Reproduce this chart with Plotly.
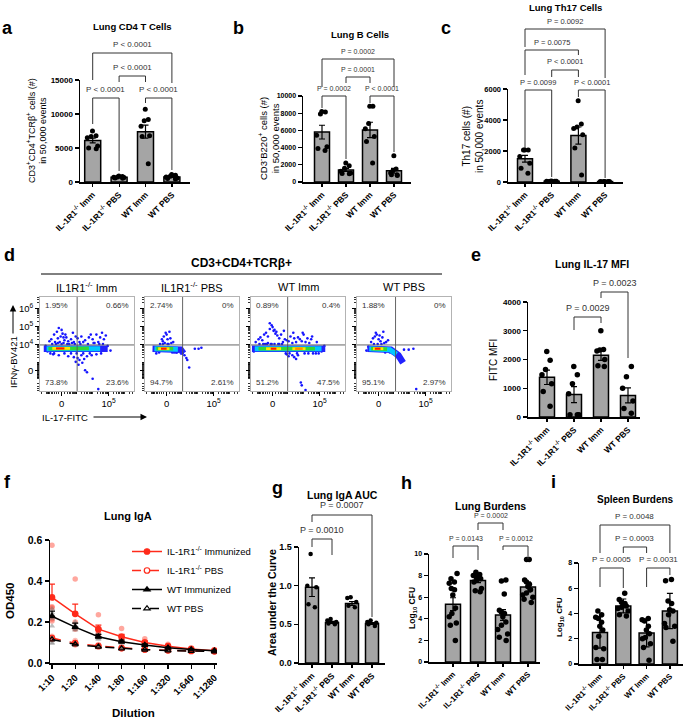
import numpy as np
import plotly.graph_objects as go

W, H = 685, 726
FONT = "Liberation Sans, Arial, sans-serif"

# ---------------- data ----------------
CATS = ["IL-1R1<sup>-/-</sup> Imm", "IL-1R1<sup>-/-</sup> PBS", "WT Imm", "WT PBS"]

a_mean = [6100, 700, 7400, 750]
a_err = [350, 50, 950, 90]
a_pts = [[7500, 6800, 6700, 6500, 5300, 4900, 5000],
         [900, 800, 750, 700, 650, 600, 550],
         [10700, 9200, 9000, 8200, 6800, 6700, 2700],
         [1100, 1000, 850, 750, 600, 500, 450]]

b_mean = [5800, 1400, 6050, 1300]
b_err = [800, 180, 900, 280]
b_pts = [[8200, 7900, 8150, 5450, 4100, 3650, 3900],
         [2200, 1900, 1600, 1250, 1050, 950, 1000],
         [8800, 8800, 6800, 6200, 5300, 4700, 2200],
         [3050, 1500, 1350, 1050, 850, 850, 750]]

c_mean = [1500, 50, 3000, 30]
c_err = [220, 10, 550, 5]
c_pts = [[2070, 2070, 2070, 1640, 1210, 890, 560],
         [60, 50, 40, 50, 45, 55, 40],
         [5250, 3750, 3550, 3450, 3050, 2200, 450],
         [30, 25, 20, 30, 35, 20, 25]]

e_mean = [1380, 780, 2150, 750]
e_err = [250, 280, 180, 260]
e_pts = [[2280, 1970, 1650, 1470, 1160, 890, 370],
         [1760, 1470, 1160, 810, 80, 80, 80],
         [3000, 2350, 2330, 2300, 2000, 1780, 1760],
         [1760, 1400, 1000, 560, 300, 130]]

g_mean = [0.98, 0.525, 0.77, 0.51]
g_err = [0.12, 0.012, 0.025, 0.012]
g_pts = [[1.41, 1.0, 0.98, 0.76, 0.72],
         [0.57, 0.55, 0.53, 0.51, 0.50],
         [0.85, 0.84, 0.79, 0.74, 0.72],
         [0.55, 0.53, 0.52, 0.50, 0.48]]

h_mean = [5.35, 7.55, 4.35, 6.95]
h_err = [0.6, 0.2, 0.5, 0.45]
h_pts = [[8.2, 7.7, 7.4, 7.3, 6.8, 6.7, 6.2, 5.0, 4.5, 4.2, 3.6, 3.4, 2.0],
         [8.3, 8.1, 8.0, 7.9, 7.9, 7.8, 7.7, 7.6, 7.4, 6.8, 6.6, 6.5],
         [7.6, 7.5, 6.3, 4.8, 4.6, 4.5, 4.2, 3.7, 3.4, 3.0, 2.6, 2.3, 2.0],
         [9.5, 9.5, 7.6, 7.4, 7.2, 7.0, 6.7, 6.4, 6.2, 5.8, 5.5, 6.0]]

i_mean = [2.5, 4.6, 2.45, 4.2]
i_err = [1.25, 0.55, 1.1, 1.4]
i_pts = [[4.2, 3.9, 3.7, 3.6, 3.3, 3.0, 2.7, 2.2, 1.3, 1.2, 0.35, 0.35],
         [5.6, 5.1, 4.9, 4.8, 4.7, 4.6, 4.5, 4.4, 4.2, 3.9, 3.8],
         [3.6, 3.5, 3.4, 3.0, 2.7, 2.4, 2.1, 2.0, 1.6, 1.3, 0.3],
         [6.7, 6.6, 5.0, 4.8, 4.3, 4.2, 3.9, 3.2, 3.0, 2.9, 1.8]]

a_p = ["P < 0.0001", "P < 0.0001", "P < 0.0001", "P < 0.0001"]
b_p = ["P = 0.0002", "P < 0.0001", "P = 0.0001", "P = 0.0002"]
c_p = ["P = 0.0099", "P < 0.0001", "P < 0.0001", "P = 0.0075", "P = 0.0092"]
e_p = ["P = 0.0029", "P = 0.0023"]
g_p = ["P = 0.0010", "P = 0.0007"]
h_p = ["P = 0.0143", "P = 0.0012", "P = 0.0002"]
i_p = ["P = 0.0005", "P = 0.0031", "P = 0.0003", "P = 0.0048"]

# f: Lung IgA
dilutions = ["1:10", "1:20", "1:40", "1:80", "1:160", "1:320", "1:640", "1:1280"]
f_il_imm = [0.32, 0.24, 0.165, 0.128, 0.10, 0.082, 0.068, 0.06]
f_il_imm_err = [0.065, 0.047, 0.02, 0.012, 0.008, 0.006, 0.005, 0.003]
f_il_pbs = [0.122, 0.097, 0.083, 0.073, 0.066, 0.062, 0.059, 0.057]
f_wt_imm = [0.228, 0.175, 0.128, 0.104, 0.088, 0.074, 0.066, 0.06]
f_wt_imm_err = [0.025, 0.02, 0.012, 0.008, 0.005, 0.004, 0.003, 0.002]
f_wt_pbs = [0.115, 0.091, 0.079, 0.071, 0.065, 0.061, 0.058, 0.056]
f_il_imm_pts = [[0.575, 0.275, 0.27, 0.215, 0.205], [0.41, 0.24, 0.2, 0.17, 0.165],
                [0.235, 0.16, 0.15, 0.14, 0.13], [0.168, 0.13, 0.12, 0.115, 0.11],
                [0.118, 0.105, 0.098, 0.092, 0.09], [0.092, 0.083, 0.08, 0.077, 0.075],
                [0.074, 0.07, 0.067, 0.065, 0.064], [0.065, 0.061, 0.06, 0.058, 0.057]]
f_il_pbs_pts = [[0.13, 0.125, 0.12, 0.115, 0.118], [0.11, 0.1, 0.095, 0.09, 0.088],
                [0.09, 0.085, 0.082, 0.08, 0.078], [0.078, 0.074, 0.072, 0.07, 0.07],
                [0.07, 0.067, 0.065, 0.064, 0.063], [0.065, 0.062, 0.061, 0.06, 0.06],
                [0.062, 0.06, 0.059, 0.058, 0.057], [0.06, 0.058, 0.057, 0.056, 0.055]]
f_wt_imm_pts = [[0.265, 0.245, 0.235, 0.215, 0.18], [0.2, 0.185, 0.17, 0.165, 0.16],
                [0.145, 0.135, 0.125, 0.12, 0.115], [0.115, 0.108, 0.102, 0.098, 0.097],
                [0.095, 0.09, 0.087, 0.085, 0.083], [0.078, 0.075, 0.073, 0.072, 0.071],
                [0.07, 0.067, 0.066, 0.064, 0.063], [0.063, 0.061, 0.06, 0.059, 0.058]]
f_wt_pbs_pts = [[0.125, 0.12, 0.11, 0.1, 0.095], [0.098, 0.092, 0.09, 0.088, 0.085],
                [0.085, 0.08, 0.078, 0.076, 0.074], [0.075, 0.072, 0.07, 0.069, 0.068],
                [0.068, 0.066, 0.065, 0.064, 0.063], [0.063, 0.061, 0.06, 0.06, 0.059],
                [0.06, 0.058, 0.058, 0.057, 0.056], [0.058, 0.056, 0.056, 0.055, 0.054]]
f_names = ["IL-1R1<sup>-/-</sup> Immunized", "IL-1R1<sup>-/-</sup> PBS", "WT Immunized", "WT PBS"]

# d: flow plots (display units 0-100 on transformed axes)
d_titles = ["IL1R1<sup>-/-</sup> Imm", "IL1R1<sup>-/-</sup> PBS", "WT Imm", "WT PBS"]
d_quads = [["1.95%", "0.66%", "73.8%", "23.6%"],
           ["2.74%", "0%", "94.7%", "2.61%"],
           ["0.89%", "0.4%", "51.2%", "47.5%"],
           ["1.88%", "0%", "95.1%", "2.97%"]]
d_pts_x = [
    [12, 15, 18, 20, 22, 24, 19, 26, 16, 21, 28, 30, 33, 13, 23, 25, 10, 36, 40, 44, 48, 52, 56, 60, 64, 68, 70, 62, 58, 46, 42, 66, 54, 38, 35, 27,
     14, 20, 30, 36, 40, 42, 44, 47, 50, 38, 45, 41, 55, 60, 65, 48, 50, 56, 62, 8, 6, 72, 75,
     17, 19, 23, 25, 29, 31, 34, 37, 43, 51, 57, 63, 67, 11, 15, 26, 33, 39, 46, 53],
    [18, 20, 22, 24, 25, 28, 30, 26, 21, 19, 23, 27, 36, 40, 42, 44, 45, 47, 53, 57, 60, 12, 15, 33,
     16, 19, 24, 29, 31, 34],
    [5, 8, 10, 12, 14, 16, 18, 20, 22, 24, 26, 28, 30, 32, 34, 36, 38, 40, 42, 44, 46, 48, 50, 52, 54, 56, 58, 60, 62, 64,
     20, 23, 25, 27, 22, 18, 15, 30, 35, 45, 55, 65, 70, 44, 46, 48, 50, 40, 38, 53, 54, 58, 3, 75, 78,
     9, 13, 17, 21, 25, 29, 33, 37, 41, 49, 57, 61, 66, 69, 72],
    [15, 17, 19, 21, 23, 25, 27, 29, 31, 33, 20, 24, 28, 50, 55, 60, 45, 47, 38, 63, 10, 12,
     18, 22, 26, 30, 35, 41, 43]]
d_pts_y = [
    [55, 60, 63, 67, 58, 61, 56, 54, 52, 52, 57, 53, 55, 50, 65, 57, 53, 52, 56, 58, 54, 57, 55, 60, 57, 55, 59, 52, 51, 52, 52, 62, 60, 58, 62, 60,
     39, 38, 37, 36, 35, 33, 38, 34, 37, 31, 30, 28, 38, 39, 40, 22, 20, 13, 2, 42, 48, 48, 43,
     50, 51, 50, 51, 50, 50, 51, 50, 50, 50, 51, 50, 50, 40, 40, 40, 40, 40, 40, 40],
    [55, 58, 62, 55, 50, 51, 52, 63, 51, 53, 60, 56, 44, 40, 38, 35, 33, 25, 45, 45, 46, 40, 41, 41,
     50, 50, 50, 41, 41, 41],
    [52, 55, 57, 54, 60, 62, 58, 66, 70, 64, 61, 59, 56, 60, 52, 55, 54, 53, 58, 51, 56, 52, 57, 55, 53, 60, 52, 56, 51, 55,
     72, 68, 65, 63, 50, 51, 50, 50, 64, 62, 62, 58, 52, 38, 36, 34, 38, 37, 39, 9, 6, 1, 42, 42, 48,
     50, 50, 50, 50, 50, 50, 50, 40, 40, 40, 40, 40, 40, 40, 40],
    [52, 56, 58, 60, 55, 53, 57, 51, 52, 54, 62, 59, 63, 44, 44, 45, 36, 31, 40, 2, 43, 47,
     50, 50, 50, 41, 41, 41, 36]]
# density bands: level -> (xs, ys) per plot
d_bands = [
    {"blue": ([4, 72], [45, 45]), "cyan": ([7, 64], [45, 45]), "green": ([9, 52], [45, 45.3]),
     "yellow": ([13, 32], [45.3, 45.3]), "red": ([17, 26], [45.3, 45.3])},
    {"blue": ([8, 38, 41], [45, 44, 40]), "cyan": ([10, 35], [45, 44.5]), "green": ([12, 30], [45, 45]),
     "yellow": ([14, 26], [45, 45]), "red": ([17, 23], [45, 45])},
    {"blue": ([1, 79], [45, 45]), "cyan": ([4, 75], [45, 45]), "green": ([8, 68], [45, 45]),
     "yellow": ([16, 32, None, 44, 58], [45, 45, None, 45, 45]), "orange": ([47, 55], [45, 45]),
     "red": ([21, 27], [45, 45])},
    {"blue": ([11, 36, 44, 49], [45, 44, 38, 30]), "cyan": ([13, 35, 42], [45, 44, 39]),
     "green": ([15, 32], [45, 44.5]), "yellow": ([17, 28], [45, 45]), "red": ([19, 25], [45, 45])}]
d_gate_x = [39.5, 40, 39, 41]
d_gate_y = 49

# ---------------- helpers ----------------
def X(p):
    return p / W


def Y(p):
    return 1 - p / H


fig = go.Figure()
ann, shp = [], []
layout = dict(template="none", width=W, height=H, margin=dict(l=0, r=0, t=0, b=0, autoexpand=False),
              paper_bgcolor="white", plot_bgcolor="rgba(0,0,0,0)", font=dict(family=FONT, color="black"))


def text(x, y, s, size, bold=False, color="black", xanchor="center", yanchor="middle", angle=0):
    ann.append(dict(x=X(x), y=Y(y), xref="paper", yref="paper", text=s, showarrow=False,
                    font=dict(size=size, color=color, family=FONT, weight="bold" if bold else "normal"),
                    xanchor=xanchor, yanchor=yanchor, textangle=angle))


BAR_GRAY = "#a5a5a5"
BAR_CFG = {
    "a": dict(n=1, x0=80, x1=190, ytop=80, ybot=182, b0=92.7, s=26.4, ymax=15000, dtick=5000, tfs=8, cfs=8.5, pfs=8, bw=16, ms=5),
    "b": dict(n=2, x0=303, x1=411, ytop=96, ybot=182, b0=322, s=24, ymax=10000, dtick=2000, tfs=7, cfs=8.5, pfs=7, bw=15, ms=5),
    "c": dict(n=3, x0=508, x1=623, ytop=89, ybot=182, b0=525, s=26.7, ymax=6000, dtick=2000, tfs=7.5, cfs=8.5, pfs=7.5, bw=15, ms=5),
    "e": dict(n=4, x0=528, x1=640, ytop=302, ybot=417, b0=547, s=27, ymax=4000, dtick=1000, tfs=8, cfs=8.5, pfs=9, bw=15, ms=5.5),
    "g": dict(n=6, x0=299, x1=385, ytop=547, ybot=663, b0=312, s=20, ymax=1.5, dtick=0.5, tfs=9, cfs=8.5, pfs=9, bw=13, ms=4.5, fmt=".1f"),
    "h": dict(n=7, x0=429, x1=540, ytop=554, ybot=662, b0=453, s=25, ymax=10, dtick=2, tfs=7, cfs=8, pfs=7, bw=15, ms=5.5),
    "i": dict(n=8, x0=579, x1=683, ytop=563, ybot=664, b0=600, s=23.3, ymax=8, dtick=2, tfs=7, cfs=8, pfs=8, bw=15, ms=5.5),
}
# bracket geometry in pixels: (bar i, bar j, horizontal line y, left leg end, right leg end)
BRACKETS = {
    "a": [(0, 1, 98, 124, 171), (2, 3, 98, 103, 170), (1, 2, 76, 82, 82), (0, 3, 53, 80, 83)],
    "b": [(0, 1, 96, 108, 159), (2, 3, 96, 103, 152), (1, 2, 77, 83, 83), (0, 3, 59, 87, 87)],
    "c": [(0, 1, 90, 148, 177), (2, 3, 90, 97, 178), (1, 2, 70, 77, 77), (0, 2, 50, 75, 55), (0, 3, 29, 47, 78)],
    "e": [(1, 2, 317, 330, 323), (2, 3, 292, 298, 358)],
    "g": [(0, 1, 539, 547, 555), (0, 3, 515, 522, 617)],
    "h": [(0, 1, 546, 558, 560), (2, 3, 546, 550, 559), (1, 2, 523, 530, 530)],
    "i": [(0, 1, 568, 587, 588), (2, 3, 568, 587, 575), (1, 2, 547, 553, 553), (0, 3, 525, 553, 553)],
}


def bar_panel(key, means, errs, pts, pvals):
    c = BAR_CFG[key]
    n = c["n"]
    xr = [-(c["b0"] - c["x0"]) / c["s"], (c["x1"] - c["b0"]) / c["s"]]
    layout[f"xaxis{n}"] = dict(domain=[X(c["x0"]), X(c["x1"])], anchor=f"y{n}", range=xr, automargin=False,
                               showline=True, linecolor="black", linewidth=1.5, ticks="outside",
                               ticklen=3, tickwidth=1.2, tickcolor="black", tickvals=[0, 1, 2, 3],
                               ticktext=CATS, tickangle=-45,
                               tickfont=dict(size=c["cfs"], weight="bold", family=FONT, color="black"),
                               showgrid=False, zeroline=False)
    layout[f"yaxis{n}"] = dict(domain=[Y(c["ybot"]), Y(c["ytop"])], anchor=f"x{n}", automargin=False,
                               range=[0, c["ymax"]], dtick=c["dtick"], tick0=0,
                               tickformat=c.get("fmt", "d"), showline=True, linecolor="black",
                               linewidth=1.5, ticks="outside", ticklen=4, tickwidth=1.2,
                               tickcolor="black", tickfont=dict(size=c["tfs"], weight="bold", family=FONT, color="black"),
                               showgrid=False, zeroline=False)
    bw = c["bw"] / c["s"]
    fig.add_trace(go.Bar(x=[0, 1, 2, 3], y=means, width=bw,
                         marker=dict(color=BAR_GRAY, line=dict(color="black", width=1.5)),
                         error_y=dict(type="data", array=errs, color="black", thickness=1.2, width=3),
                         xaxis=f"x{n}", yaxis=f"y{n}", showlegend=False, hoverinfo="skip"))
    for k, p in enumerate(pts):
        fig.add_trace(go.Box(x0=k, y=p, width=bw, boxpoints="all", jitter=0.85, pointpos=0,
                             marker=dict(color="black", size=c["ms"], line=dict(width=0)),
                             line=dict(width=0), fillcolor="rgba(0,0,0,0)",
                             xaxis=f"x{n}", yaxis=f"y{n}", showlegend=False, hoverinfo="skip"))
    for (i, j, yl, e1, e2), lab in zip(BRACKETS[key], pvals):
        xi = c["b0"] + i * c["s"]
        xj = c["b0"] + j * c["s"]
        shp.append(dict(type="path", xref="paper", yref="paper",
                        path=f"M {X(xi)} {Y(e1)} L {X(xi)} {Y(yl)} L {X(xj)} {Y(yl)} L {X(xj)} {Y(e2)}",
                        line=dict(color="#333333", width=1)))
        text((xi + xj) / 2, yl - c["pfs"] - 0.5, lab, c["pfs"], color="#333333")


bar_panel("a", a_mean, a_err, a_pts, a_p)
bar_panel("b", b_mean, b_err, b_pts, b_p)
bar_panel("c", c_mean, c_err, c_pts, c_p)
bar_panel("e", e_mean, e_err, e_pts, e_p)
bar_panel("g", g_mean, g_err, g_pts, g_p)
bar_panel("h", h_mean, h_err, h_pts, h_p)
bar_panel("i", i_mean, i_err, i_pts, i_p)

# titles
text(132, 27, "Lung CD4 T Cells", 9.5, bold=True)
text(360, 35, "Lung B Cells", 9.5, bold=True)
text(565, 7, "Lung Th17 Cells", 9.5, bold=True)
text(592, 264, "Lung IL-17 MFI", 10.5, bold=True)
text(128, 516, "Lung IgA", 11, bold=True)
text(342, 495, "Lung IgA AUC", 10.5, bold=True)
text(490, 506, "Lung Burdens", 10.5, bold=True)
text(635, 499, "Spleen Burdens", 10, bold=True)

# y titles
text(36, 131, "CD3<sup>+</sup>CD4<sup>+</sup>TCRβ<sup>+</sup> cells (#)<br>in 50,000 events", 9, angle=-90)
text(269, 139, "CD3<sup>-</sup>B220<sup>+</sup> cells (#)<br>in 50,000 events", 9.5, angle=-90)
text(473, 136, "Th17 cells (#)<br>in 50,000 events", 10, angle=-90)
text(493, 360, "FITC MFI", 10, angle=-90)
text(10, 601, "OD450", 11.5, bold=True, angle=-90)
text(272, 603, "Area under the Curve", 10.5, bold=True, angle=-90)
text(412, 608, "Log<sub>10</sub> CFU", 8.5, bold=True, angle=-90)
text(560, 617, "Log<sub>10</sub> CFU", 8, bold=True, angle=-90)

# panel letters
for lt, (lx, ly) in zip("abcdefghi", [(8, 28), (239, 28), (446, 28), (9, 255), (476, 255),
                                       (7, 482), (277, 488), (406, 483), (553, 482)]):
    text(lx, ly, lt, 18, bold=True)

# ---------------- f: Lung IgA ----------------
RED = "#ff2a1a"
F = dict(n=5, x0=50, x1=217, ytop=540, ybot=663, p0=52, s=23.2)
layout["xaxis5"] = dict(domain=[X(F["x0"]), X(F["x1"])], anchor="y5", automargin=False,
                        range=[-(F["p0"] - F["x0"]) / F["s"], (F["x1"] - F["p0"]) / F["s"]],
                        showline=True, linecolor="black", linewidth=1.5, ticks="outside", ticklen=4,
                        tickwidth=1.2, tickcolor="black", tickvals=list(range(8)), ticktext=dilutions, tickangle=-45,
                        tickfont=dict(size=9.5, weight="bold", family=FONT, color="black"), showgrid=False, zeroline=False)
layout["yaxis5"] = dict(domain=[Y(F["ybot"]), Y(F["ytop"])], anchor="x5", range=[0, 0.6], dtick=0.2,
                        automargin=False, tickformat=".1f", showline=True, linecolor="black", linewidth=1.5,
                        ticks="outside", tickcolor="black",
                        ticklen=4, tickwidth=1.2, tickfont=dict(size=10.5, weight="bold", family=FONT, color="black"),
                        showgrid=False, zeroline=False)
text(133, 713, "Dilution", 11.5, bold=True)
xs = list(range(8))
for pts, col, sym in [(f_il_imm_pts, "rgba(255,60,40,0.45)", "circle"),
                      (f_il_pbs_pts, "rgba(255,60,40,0.35)", "circle"),
                      (f_wt_imm_pts, "rgba(110,110,110,0.45)", "triangle-up"),
                      (f_wt_pbs_pts, "rgba(110,110,110,0.4)", "triangle-up")]:
    fx = [k for k, row in enumerate(pts) for _ in row]
    fy = [v for row in pts for v in row]
    fig.add_trace(go.Scatter(x=fx, y=fy, mode="markers", marker=dict(color=col, size=5.5, symbol=sym),
                             xaxis="x5", yaxis="y5", showlegend=False, hoverinfo="skip"))
series = [(f_il_imm, f_il_imm_err, RED, "solid", "circle"),
          (f_il_pbs, None, RED, "dash", "circle-open"),
          (f_wt_imm, f_wt_imm_err, "black", "solid", "triangle-up"),
          (f_wt_pbs, None, "black", "dash", "triangle-up-open")]
for (ys, er, col, dash, sym), nm in zip(series, f_names):
    fig.add_trace(go.Scatter(x=xs, y=ys, mode="lines+markers", name=nm,
                             line=dict(color=col, width=1.5, dash=dash),
                             marker=dict(color=col, size=5.5, symbol=sym, line=dict(color=col, width=1.2)),
                             error_y=(dict(type="data", array=er, arrayminus=[0] * 8, color=col,
                                           thickness=1.2, width=3) if er else None),
                             xaxis="x5", yaxis="y5", hoverinfo="skip"))
layout["legend"] = dict(x=X(127), y=Y(537), xanchor="left", yanchor="top", bgcolor="rgba(0,0,0,0)",
                        font=dict(size=9.5, family=FONT, color="black"), tracegroupgap=0, itemwidth=30)

# ---------------- d: flow plots ----------------
def fxd(v):
    return 23 + 7.38 * np.arcsinh(np.asarray(v, float) / 230)


def fyd(v):
    return 22 + 8.47 * np.arcsinh(np.asarray(v, float) / 828)


minor_raw = [s * m * 10 ** k for s in (1, -1) for k in range(2, 7) for m in range(1, 10)]
minor_x = [float(v) for v in fxd(minor_raw) if 0 <= v <= 100]
minor_y = [float(v) for v in fyd(minor_raw) if 0 <= v <= 100]
BAND_STYLE = {"blue": ("#2222ff", 6.5), "cyan": ("#00c8ff", 5), "green": ("#33d633", 3.6),
              "yellow": ("#ffe600", 2.8), "orange": ("#ff8a00", 2.4), "red": ("#ff1a00", 2.1)}
BOX_X = [40, 145, 251, 357]
BOX_W = 94
BOX_T, BOX_B = 297, 391
for p in range(4):
    n = 9 + p
    x0 = BOX_X[p]
    layout[f"xaxis{n}"] = dict(domain=[X(x0), X(x0 + BOX_W)], anchor=f"y{n}", range=[0, 100], automargin=False,
                               showline=True, mirror=True, linecolor="#a0a0a0", linewidth=0.8,
                               ticks="outside", ticklen=4, tickwidth=1, tickcolor="black",
                               tickvals=[float(fxd(0)), float(fxd(1e5))], ticktext=["0", "10<sup>5</sup>"],
                               tickfont=dict(size=9.5, family=FONT, color="black"),
                               minor=dict(tickmode="array", tickvals=minor_x, ticks="outside", ticklen=2.5,
                                          tickwidth=0.8, tickcolor="black"),
                               showgrid=False, zeroline=False)
    layout[f"yaxis{n}"] = dict(domain=[Y(BOX_B), Y(BOX_T)], anchor=f"x{n}", range=[0, 100], automargin=False,
                               showline=True, mirror=True, linecolor="#a0a0a0", linewidth=0.8,
                               ticks="outside", ticklen=4, tickwidth=1, tickcolor="black",
                               tickvals=[float(v) for v in fyd([0, 1e4, 1e5, 1e6])],
                               ticktext=["0", "10<sup>4</sup>", "10<sup>5</sup>", "10<sup>6</sup>"],
                               showticklabels=(p == 0), tickfont=dict(size=9.5, family=FONT, color="black"),
                               minor=dict(tickmode="array", tickvals=minor_y, ticks="outside", ticklen=2.5,
                                          tickwidth=0.8, tickcolor="black"),
                               showgrid=False, zeroline=False)
    fig.add_trace(go.Scatter(x=d_pts_x[p], y=d_pts_y[p], mode="markers",
                             marker=dict(color="#1414ff", size=2.6), xaxis=f"x{n}", yaxis=f"y{n}",
                             showlegend=False, hoverinfo="skip"))
    for lvl, (bx, by) in d_bands[p].items():
        col, wd = BAND_STYLE[lvl]
        fig.add_trace(go.Scatter(x=bx, y=by, mode="lines", line=dict(color=col, width=wd),
                                 xaxis=f"x{n}", yaxis=f"y{n}", showlegend=False, hoverinfo="skip"))
    shp.append(dict(type="line", xref=f"x{n}", yref=f"y{n}", x0=d_gate_x[p], x1=d_gate_x[p], y0=0, y1=100,
                    line=dict(color="#555555", width=0.9)))
    shp.append(dict(type="line", xref=f"x{n}", yref=f"y{n}", x0=0, x1=100, y0=d_gate_y, y1=d_gate_y,
                    line=dict(color="#555555", width=0.9)))
    q = d_quads[p]
    text(x0 + 3, BOX_T + 8, q[0], 8, color="#333333", xanchor="left")
    text(x0 + BOX_W - 3, BOX_T + 8, q[1], 8, color="#333333", xanchor="right")
    text(x0 + 3, BOX_B - 8, q[2], 8, color="#333333", xanchor="left")
    text(x0 + BOX_W - 3, BOX_B - 8, q[3], 8, color="#333333", xanchor="right")
    text(x0 + BOX_W / 2, 287, d_titles[p], 11)

text(241, 263, "CD3+CD4+TCRβ+", 12, bold=True)
shp.append(dict(type="line", xref="paper", yref="paper", x0=X(41), x1=X(442), y0=Y(274), y1=Y(274),
                line=dict(color="black", width=1)))
text(13, 362, "IFNγ-BV421", 9.5, angle=-90)
ann.append(dict(x=X(13), y=Y(305), xref="paper", yref="paper", text="", showarrow=True, ax=0, ay=30,
                arrowhead=2, arrowsize=1.3, arrowwidth=1, arrowcolor="black"))
text(40, 417, "IL-17-FITC", 9.5, xanchor="left")
ann.append(dict(x=X(147), y=Y(417), xref="paper", yref="paper", text="", showarrow=True, ax=-55, ay=0,
                arrowhead=2, arrowsize=1.3, arrowwidth=1, arrowcolor="black"))

layout["annotations"] = ann
layout["shapes"] = shp
layout["showlegend"] = True
fig.update_layout(**layout)
fig.write_html("out.html", config={"displayModeBar": False, "staticPlot": True},
               post_script="document.body.style.margin='0';document.body.style.padding='0';"
                           "document.body.style.overflow='hidden';")
